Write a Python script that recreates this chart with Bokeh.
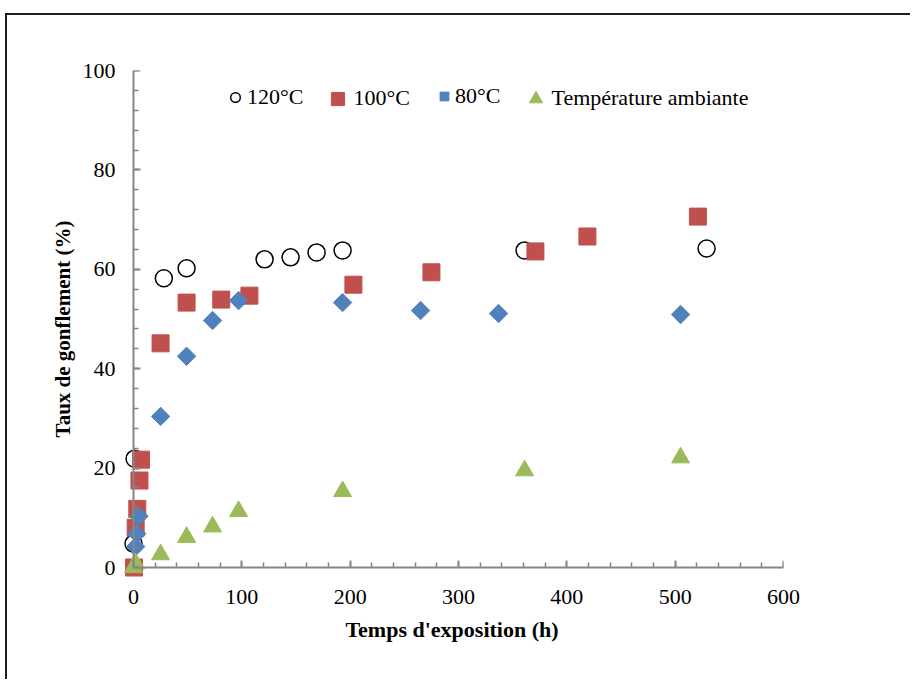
import math
from bokeh.plotting import figure
from bokeh.models import (Range1d, SingleIntervalTicker, Legend, LegendItem,
                          LinearAxis, CustomLabelingPolicy)
from bokeh.embed import file_html
from bokeh.resources import INLINE

# ---- data ----
x120 = [0, 1, 28, 49, 121, 145, 169, 193, 361, 529]
y120 = [4.8, 21.9, 58.2, 60.2, 62.0, 62.4, 63.4, 63.8, 63.8, 64.2]

x100 = [0.5, 2, 3.5, 5.5, 7, 25, 49, 81, 107, 203, 275, 371, 419, 521]
y100 = [0, 8.0, 11.8, 17.5, 21.7, 45.1, 53.3, 53.9, 54.7, 56.9, 59.4, 63.6, 66.6, 70.6]

x80 = [2, 3, 5, 25, 49, 73, 97, 193, 265, 337, 505]
y80 = [4.2, 6.8, 10.3, 30.4, 42.5, 49.7, 53.7, 53.3, 51.7, 51.1, 50.9]

xamb = [0, 2, 25, 49, 73, 97, 193, 361, 505]
yamb = [0, 0.8, 2.6, 6.1, 8.2, 11.3, 15.3, 19.5, 22.1]

labels = ["120°C", "100°C", "80°C", "Température ambiante"]

FONT = "Liberation Serif"
AX = "#868686"
W, H = 905, 666
FW, FH = 663, 517           # plot frame size in px
X0 = -12                    # small margin so markers at 0 are not clipped
Y0 = 100 - FH / 4.97

p = figure(width=W, height=H, output_backend="svg", toolbar_location=None,
           x_range=Range1d(X0, 600), y_range=Range1d(Y0, 100),
           min_border_left=113, min_border_top=55,
           min_border_bottom=H - 55 - FH, min_border_right=W - 113 - FW)
# outer chart border (its right / bottom sides fall outside the window)
p.styles = {"border-left": "2px solid #1e1e1e", "border-top": "2px solid #1e1e1e",
            "margin-left": "5px", "margin-top": "13px"}
p.outline_line_alpha = 0
p.grid.visible = False
p.background_fill_color = "white"

# panel axes: tick labels and titles only
for ax, iv, b in ((p.xaxis[0], 100, (0, 600)), (p.yaxis[0], 20, (0, 100))):
    ax.ticker = SingleIntervalTicker(interval=iv, num_minor_ticks=5)
    ax.bounds = b
    ax.axis_line_alpha = 0
    ax.major_tick_line_alpha = 0
    ax.minor_tick_line_alpha = 0
    ax.major_tick_in = 0
    ax.major_tick_out = 0
    ax.minor_tick_in = 0
    ax.minor_tick_out = 0
    ax.major_label_text_font = FONT
    ax.major_label_text_font_size = "22px"
    ax.major_label_text_color = "black"
    ax.axis_label_text_font = FONT
    ax.axis_label_text_font_style = "bold"
    ax.axis_label_text_color = "black"

p.xaxis.axis_label = "Temps d'exposition (h)"
p.yaxis.axis_label = "Taux de gonflement (%)"
p.xaxis.axis_label_text_font_size = "22px"
p.yaxis.axis_label_text_font_size = "21px"
p.xaxis.major_label_standoff = 2
p.yaxis.major_label_standoff = 5
p.xaxis.axis_label_standoff = 10
p.yaxis.axis_label_standoff = 5

# axis lines and ticks drawn at x = 0 / y = 0 (no labels of their own)
for side, iv, b in (("below", 100, (0, 600)), ("left", 20, (0, 100))):
    ax = LinearAxis(ticker=SingleIntervalTicker(interval=iv, num_minor_ticks=5),
                    bounds=b, fixed_location=0,
                    axis_line_color=AX, axis_line_width=2,
                    major_tick_line_color=AX, minor_tick_line_color=AX,
                    major_tick_line_width=2, minor_tick_line_width=1.5,
                    major_tick_in=7, major_tick_out=0,
                    minor_tick_in=5, minor_tick_out=0,
                    major_label_policy=CustomLabelingPolicy(code="if (false) { yield 0 }"),
                    major_label_standoff=0)
    p.add_layout(ax, side)

r120 = p.scatter(x120, y120, marker="circle", size=17, fill_alpha=0,
                 line_color="black", line_width=1.5)
r100 = p.scatter(x100, y100, marker="square", size=17, fill_color="#C0504D",
                 line_color="#C0504D")
r80 = p.scatter(x80, y80, marker="square", angle=math.pi / 4, size=13,
                fill_color="#4F81BD", line_color="#4F81BD")
ramb = p.scatter(xamb, yamb, marker="triangle", size=18, fill_color="#9BBB59",
                 line_color="#9BBB59")

CY = 489  # legend row centre, px above the frame bottom
specs = [(r120, labels[0], 24, 103),
         (r100, labels[1], 33, 200.5),
         (r80, labels[2], 22, 313),
         (ramb, labels[3], 33, 398.5)]
for r, lab, g, x0 in specs:
    lg = Legend(items=[LegendItem(label=lab, renderers=[r])],
                location=(x0, CY - g / 2), orientation="horizontal",
                glyph_width=g, glyph_height=g, label_height=g, label_standoff=0,
                padding=0, margin=0, spacing=0,
                border_line_alpha=0, background_fill_alpha=0,
                label_text_font=FONT, label_text_font_size="22px",
                label_text_color="black")
    p.add_layout(lg, "center")

open("out.html", "w").write(file_html(p, INLINE))
